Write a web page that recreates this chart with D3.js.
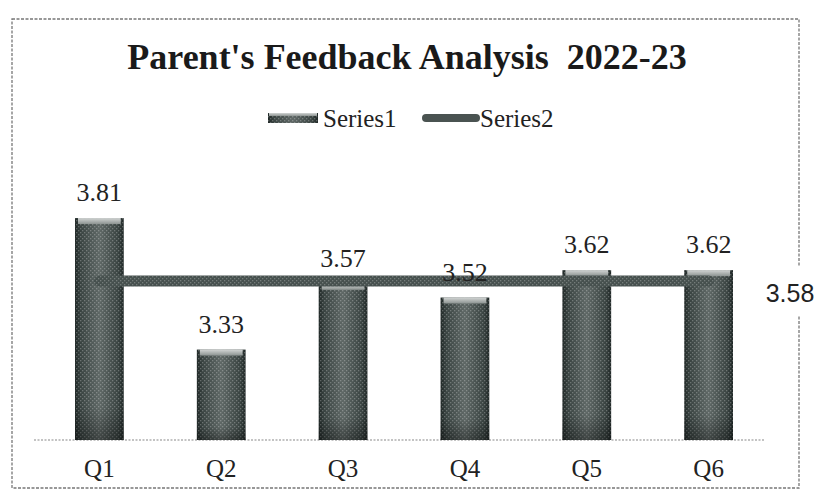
<!DOCTYPE html>
<html><head><meta charset="utf-8">
<script src="https://cdn.jsdelivr.net/npm/d3@7"></script>
<style>html,body{margin:0;padding:0;background:#fff;}svg{display:block;}</style>
</head><body>
<svg id="chart" width="819" height="500"></svg>
<script>
const categories = ["Q1","Q2","Q3","Q4","Q5","Q6"];
const series1 = [3.81, 3.33, 3.57, 3.52, 3.62, 3.62];
const series2 = [3.58, 3.58, 3.58, 3.58, 3.58, 3.58];
const series2Label = "3.58";
const titleText = "Parent's Feedback Analysis  2022-23";
const legendNames = ["Series1", "Series2"];

const svg = d3.select("#chart");
const defs = svg.append("defs");

const g1 = defs.append("linearGradient").attr("id","barGrad").attr("x1","0").attr("x2","1").attr("y1","0").attr("y2","0");
[[0,"#1f2726"],[0.12,"#3a4442"],[0.5,"#5f6866"],[0.88,"#3a4442"],[1,"#1f2726"]].forEach(s=>g1.append("stop").attr("offset",s[0]).attr("stop-color",s[1]));
const g2 = defs.append("linearGradient").attr("id","barV").attr("x1","0").attr("x2","0").attr("y1","0").attr("y2","1");
[[0,"rgba(0,0,0,0)"],[0.85,"rgba(0,0,0,0)"],[1,"rgba(0,0,0,0.35)"]].forEach(s=>g2.append("stop").attr("offset",s[0]).attr("stop-color",s[1]));
const g3 = defs.append("linearGradient").attr("id","capGrad").attr("x1","0").attr("x2","0").attr("y1","0").attr("y2","1");
[[0,"#d2d5d4"],[1,"#8c9391"]].forEach(s=>g3.append("stop").attr("offset",s[0]).attr("stop-color",s[1]));
const pat = defs.append("pattern").attr("id","dots").attr("width",4).attr("height",4).attr("patternUnits","userSpaceOnUse");
pat.append("rect").attr("x",0).attr("y",0).attr("width",1.3).attr("height",1.3).attr("fill","rgba(255,255,255,0.25)");
pat.append("rect").attr("x",2).attr("y",2).attr("width",1.3).attr("height",1.3).attr("fill","rgba(255,255,255,0.25)");

// frame
svg.append("rect").attr("x",12).attr("y",19).attr("width",787).attr("height",469)
  .attr("fill","none").attr("stroke","#777").attr("stroke-width",1.3).attr("stroke-dasharray","3,1.5");

const x = d3.scaleBand().domain(categories).range([75, 733]).paddingInner(0.6).paddingOuter(0);
const y = d3.scaleLinear().domain([3, 4]).range([440, 166]);

// title
svg.append("text").attr("x",407).attr("y",69).attr("text-anchor","middle")
  .attr("font-family","'Liberation Serif','Times New Roman',serif").attr("font-weight","bold")
  .attr("font-size",36).attr("fill","#1a1a1a").style("white-space","pre").text(titleText);

// legend
const lg = svg.append("g");
lg.append("rect").attr("x",268).attr("y",113).attr("width",50).attr("height",10).attr("fill","url(#barGrad)");
lg.append("rect").attr("x",268).attr("y",113).attr("width",50).attr("height",10).attr("fill","url(#dots)");
lg.append("rect").attr("x",269).attr("y",113).attr("width",48).attr("height",3).attr("fill","url(#capGrad)");
lg.append("text").attr("x",323).attr("y",127).attr("font-family","'Liberation Serif',serif").attr("font-size",25).attr("fill","#222").text(legendNames[0]);
lg.append("line").attr("x1",426).attr("x2",476).attr("y1",118).attr("y2",118).attr("stroke","#4a5351").attr("stroke-width",8).attr("stroke-linecap","round");
lg.append("text").attr("x",480).attr("y",127).attr("font-family","'Liberation Serif',serif").attr("font-size",25).attr("fill","#222").text(legendNames[1]);

// axis baseline
svg.append("line").attr("x1",34).attr("x2",765).attr("y1",y(3)).attr("y2",y(3))
  .attr("stroke","#888").attr("stroke-width",1.2).attr("stroke-dasharray","2,1.5");

// bars
const bars = svg.append("g").selectAll("g").data(categories).join("g");
bars.append("rect").attr("x",d=>x(d)).attr("y",(d,i)=>y(series1[i])).attr("width",x.bandwidth())
  .attr("height",(d,i)=>y(3)-y(series1[i])).attr("fill","url(#barGrad)");
bars.append("rect").attr("x",d=>x(d)).attr("y",(d,i)=>y(series1[i])).attr("width",x.bandwidth())
  .attr("height",(d,i)=>y(3)-y(series1[i])).attr("fill","url(#dots)");
bars.append("rect").attr("x",d=>x(d)).attr("y",(d,i)=>y(series1[i])).attr("width",x.bandwidth())
  .attr("height",(d,i)=>y(3)-y(series1[i])).attr("fill","url(#barV)");
bars.append("rect").attr("x",d=>x(d)+3).attr("y",(d,i)=>y(series1[i])).attr("width",x.bandwidth()-6)
  .attr("height",6).attr("fill","url(#capGrad)");

// series2 line
const line = d3.line().x((d,i)=>x(categories[i])+x.bandwidth()/2).y(d=>y(d));
svg.append("path").datum(series2).attr("d",line).attr("fill","none")
  .attr("stroke","#46504e").attr("stroke-width",11).attr("stroke-linecap","round");
svg.append("path").datum(series2).attr("d",line).attr("fill","none")
  .attr("stroke","url(#dots)").attr("stroke-width",11).attr("stroke-linecap","round");

// value labels
svg.append("g").selectAll("text").data(categories).join("text")
  .attr("x",d=>x(d)+x.bandwidth()/2).attr("y",(d,i)=>y(series1[i])-17)
  .attr("text-anchor","middle").attr("font-family","'Liberation Serif',serif").attr("font-size",26)
  .attr("fill","#222").text((d,i)=>series1[i].toFixed(2));

// category labels
svg.append("g").selectAll("text").data(categories).join("text")
  .attr("x",d=>x(d)+x.bandwidth()/2).attr("y",477)
  .attr("text-anchor","middle").attr("font-family","'Liberation Serif',serif").attr("font-size",25)
  .attr("fill","#222").text(d=>d);

// series2 end label (covers frame)
svg.append("rect").attr("x",760).attr("y",266).attr("width",58).attr("height",50).attr("fill","#fff");
svg.append("text").attr("x",790).attr("y",302).attr("text-anchor","middle")
  .attr("font-family","'Liberation Sans',Arial,sans-serif").attr("font-size",25).attr("fill","#222").text(series2Label);
</script>
</body></html>
